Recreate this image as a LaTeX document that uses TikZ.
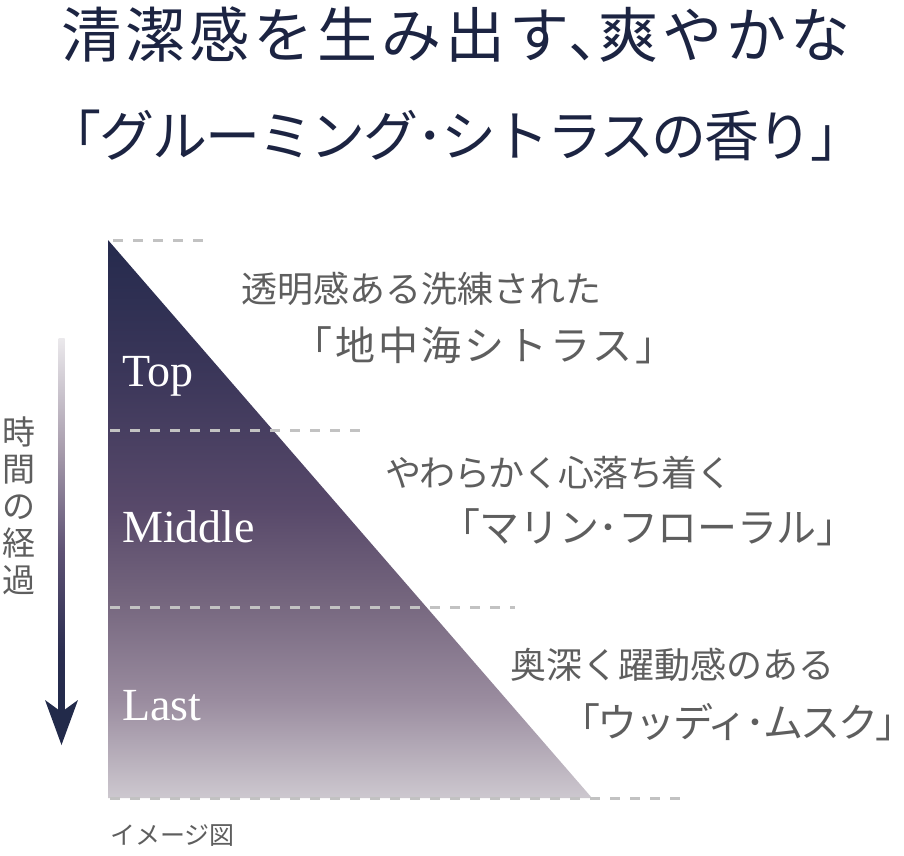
\documentclass[tikz,border=0pt]{standalone}
\usepackage{fontspec}
\setmainfont{Liberation Serif}
\newfontfamily\jp{Noto Sans CJK JP}
\definecolor{navy}{HTML}{1C2442}
\definecolor{txtgray}{HTML}{5E5E5E}
\definecolor{dashgray}{HTML}{C2C2C2}
\definecolor{tA}{HTML}{CDC8CF}
\definecolor{tB}{HTML}{9A8C9F}
\definecolor{tC}{HTML}{75667E}
\definecolor{tD}{HTML}{58496A}
\definecolor{tE}{HTML}{3A3659}
\definecolor{tF}{HTML}{252A4D}
\definecolor{aA}{HTML}{222A4A}
\definecolor{aB}{HTML}{2A2D50}
\definecolor{aC}{HTML}{5E5274}
\definecolor{aD}{HTML}{A79CAC}
\definecolor{aE}{HTML}{EBE9EC}
\pgfdeclareverticalshading{trishade}{100bp}{color(0bp)=(tA); color(25bp)=(tA); color(33.8bp)=(tB); color(42.75bp)=(tC); color(51bp)=(tD); color(63.5bp)=(tE); color(75bp)=(tF); color(100bp)=(tF)}
\pgfdeclareverticalshading{shaftshade}{100bp}{color(0bp)=(aA); color(25bp)=(aA); color(33bp)=(aB); color(46.5bp)=(aC); color(60bp)=(aD); color(75bp)=(aE); color(100bp)=(aE)}
\newcommand\jpls[3]{\fontsize{#1}{#2}\selectfont\jp\addfontfeature{LetterSpace=#3}}
\tikzset{
  titletext/.style={inner sep=0pt, text=navy},
  leadtext/.style={inner sep=0pt, anchor=west, text=txtgray, font=\jpls{36}{40}{0}},
  notetext/.style={inner sep=0pt, anchor=west, text=txtgray},
  stagetext/.style={inner sep=0pt, anchor=base west, text=white, font=\fontsize{46}{50}\selectfont},
  dashline/.style={draw=dashgray, line width=3pt, dash pattern=on 10pt off 10pt},
}
\begin{document}
\begin{tikzpicture}[x=1pt,y=-1pt]
\useasboundingbox[fill=white] (0,0) rectangle (904,855);
% title
\node[titletext, font=\jpls{60}{66}{6.7}] (title1) at (456,35) {清潔感を生み出す、\kern-0.5em爽やかな};
\node[titletext, font=\jpls{55}{60}{-4}] (title2) at (456,136) {「グルーミング･シトラスの香り」};
% triangle
\coordinate (A) at (108,240);
\coordinate (B) at (108,798);
\coordinate (C) at (592,798);
\shade[shading=trishade] (A) -- (B) -- (C) -- cycle;
% dashed levels
\coordinate (d1s) at (113,240); \coordinate (d1e) at (205,240);
\coordinate (d2s) at (110,430); \coordinate (d2e) at (362,430);
\coordinate (d3s) at (110,607); \coordinate (d3e) at (515,607);
\coordinate (d4s) at (110,798); \coordinate (d4e) at (682,798);
\draw[dashline] (d1s) -- (d1e);
\draw[dashline] (d2s) -- (d2e);
\draw[dashline] (d3s) -- (d3e);
\draw[dashline] (d4s) -- (d4e);
% stage labels
\node[stagetext] (top) at (122,386) {Top};
\node[stagetext] (middle) at (122,542) {Middle};
\node[stagetext] (last) at (122,720) {Last};
% time arrow
\coordinate (ashaftA) at (58.5,338);
\coordinate (ashaftB) at (64.5,712);
\shade[shading=shaftshade] (ashaftA) rectangle (ashaftB);
\coordinate (tip) at (61.5,745);
\fill[aA] (tip) -- (45,700) -- (61.5,712) -- (78,700) -- cycle;
\node[inner sep=0pt, text=txtgray, align=center, font=\jpls{33}{37}{0}] (timelabel) at (19,506) {時\\間\\の\\経\\過};
% descriptions
\node[leadtext] (lead1) at (241,289) {透明感ある洗練された};
\node[notetext, font=\jpls{40}{44}{7.5}] (note1) at (292,345) {「地中海シトラス」};
\node[leadtext, font=\jpls{36}{40}{-4}] (lead2) at (385,473) {やわらかく心落ち着く};
\node[notetext, font=\jpls{40}{44}{-1}] (note2) at (440,527) {「マリン･フローラル」};
\node[leadtext] (lead3) at (510,665) {奥深く躍動感のある};
\node[notetext, font=\jpls{40}{44}{-6}] (note3) at (560,722) {「ウッディ･ムスク」\kern-0.45em};
% caption
\node[inner sep=0pt, anchor=west, text=txtgray, font=\jpls{25}{29}{0}] (caption) at (110,836) {イメージ図};
\end{tikzpicture}
\end{document}
